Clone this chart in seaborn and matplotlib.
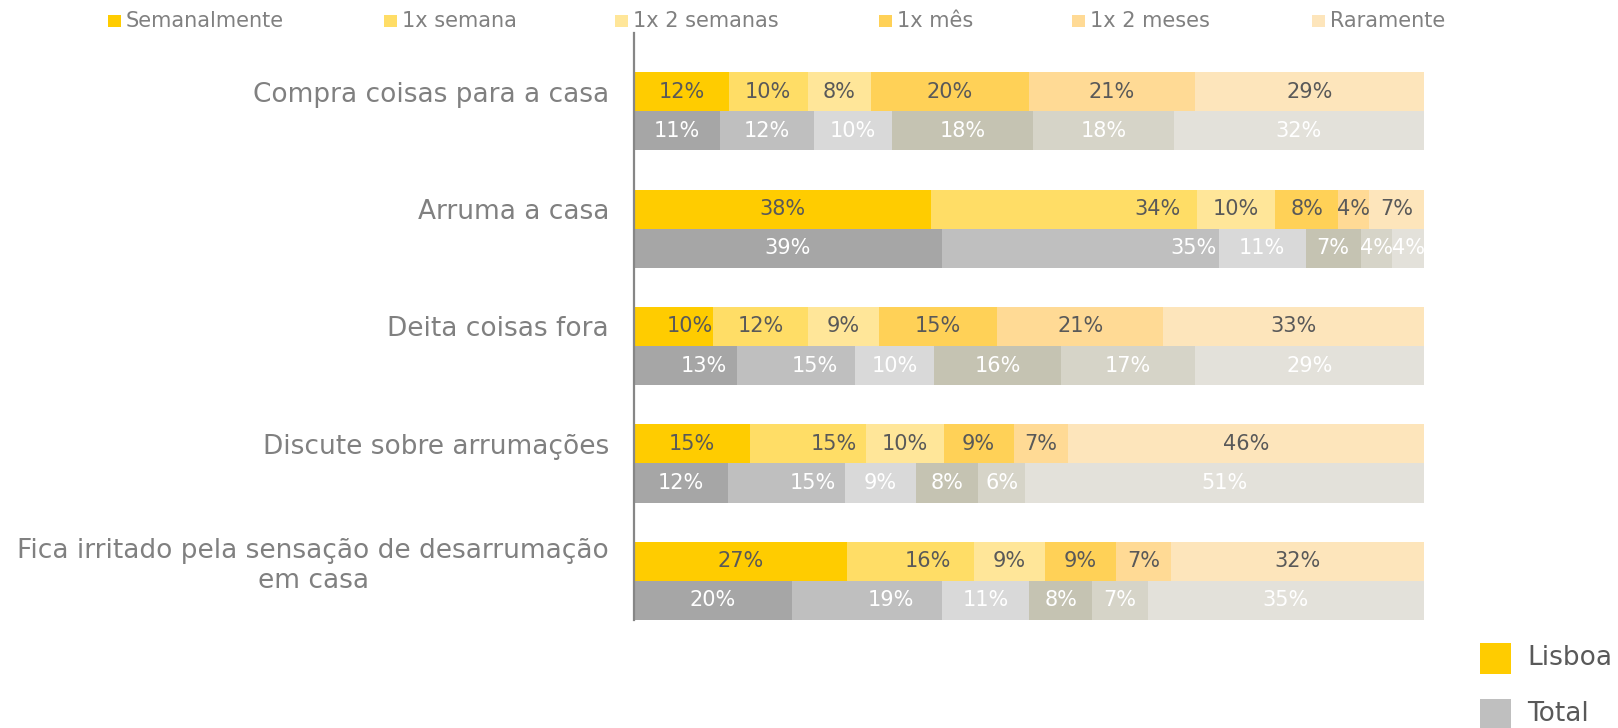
import numpy as np
import pandas as pd
import seaborn as sns
import matplotlib
matplotlib.use("Agg")
import matplotlib.pyplot as plt
from matplotlib.patches import Rectangle

# ---- data ----
categories = [
    "Compra coisas para a casa",
    "Arruma a casa",
    "Deita coisas fora",
    "Discute sobre arrumações",
    "Fica irritado pela sensação de desarrumação\nem casa",
]
segments = ["Semanalmente", "1x semana", "1x 2 semanas", "1x mês", "1x 2 meses", "Raramente"]
groups = ["Lisboa", "Total"]

lisboa_values = [
    [12, 10, 8, 20, 21, 29],
    [38, 34, 10, 8, 4, 7],
    [10, 12, 9, 15, 21, 33],
    [15, 15, 10, 9, 7, 46],
    [27, 16, 9, 9, 7, 32],
]
total_values = [
    [11, 12, 10, 18, 18, 32],
    [39, 35, 11, 7, 4, 4],
    [13, 15, 10, 16, 17, 29],
    [12, 15, 9, 8, 6, 51],
    [20, 19, 11, 8, 7, 35],
]

lisboa_colors = ["#FFCC00", "#FFDD66", "#FFE699", "#FFD157", "#FFDA95", "#FDE5BB"]
total_colors = ["#A6A6A6", "#BFBFBF", "#D9D9D9", "#C5C3B2", "#D6D4C8", "#E3E1DA"]

# ---- long-form table with 100%-stacked cumulative ends ----
rows = []
for g, table in zip(groups, [lisboa_values, total_values]):
    for ci, (cat, vals) in enumerate(zip(categories, table)):
        vals = np.asarray(vals, dtype=float)
        share = vals / vals.sum() * 100
        ends = np.cumsum(share)
        starts = ends - share
        for si, (seg, v, s, e) in enumerate(zip(segments, vals, starts, ends)):
            rows.append(dict(ci=ci, si=si, category=cat, group=g, segment=seg,
                             value=v, start=s, end=e))
df = pd.DataFrame(rows)

# label placement inside a segment (fraction of its width); default is centre
label_frac = {
    (1, "Lisboa", 1): 0.85, (1, "Total", 1): 0.91,
    (2, "Lisboa", 0): 0.71, (2, "Total", 0): 0.68, (2, "Total", 1): 0.66,
    (3, "Lisboa", 1): 0.72, (3, "Total", 1): 0.72,
    (4, "Lisboa", 1): 0.64, (4, "Total", 1): 0.66,
}

# ---- style ----
sns.set_theme(style="white")
plt.rcParams["font.family"] = ["DejaVu Sans"]

W, H = 1618, 728
fig = plt.figure(figsize=(W / 100, H / 100), dpi=100)
ax = fig.add_axes([634 / W, 1 - 620 / H, (1424 - 634) / W, (620 - 33) / H])

bar_width = 0.664
# draw the stacked layers back to front, each ending at its cumulative share
for k in reversed(range(len(segments))):
    sub = df[df.segment == segments[k]]
    sns.barplot(
        data=sub, y="category", x="end", hue="group", hue_order=groups,
        order=categories,
        palette={"Lisboa": lisboa_colors[k], "Total": total_colors[k]},
        orient="h", width=bar_width, gap=0, dodge=True, saturation=1,
        linewidth=0, errorbar=None, legend=False, ax=ax,
    )

# value labels on each visible segment
offset = bar_width / 4
for _, r in df.iterrows():
    y = r.ci - offset if r.group == "Lisboa" else r.ci + offset
    frac = label_frac.get((r.ci, r.group, r.si), 0.5)
    x = r.start + frac * (r.end - r.start)
    color = "#595959" if r.group == "Lisboa" else "white"
    ax.text(x, y, f"{int(r.value)}%", ha="center", va="center",
            fontsize=15, color=color)

ax.set_xlim(0, 100)
ax.set_ylim(len(categories) - 1 + offset * 2, -offset * 4)
ax.set_xlabel("")
ax.set_ylabel("")
ax.set_xticks([])
ax.set_yticks(np.arange(len(categories)) - offset)
ax.set_yticklabels(categories)
ax.tick_params(axis="y", length=0, pad=18, labelsize=19, labelcolor="#808080")
for lab in ax.get_yticklabels():
    lab.set_multialignment("center")

for side in ["top", "right", "bottom"]:
    ax.spines[side].set_visible(False)
ax.spines["left"].set_color("#868686")
ax.spines["left"].set_linewidth(1.6)
ax.set_facecolor("none")

# ---- segment legend across the top ----
legend_x = [108, 384, 615, 879, 1072, 1312]
for name, x, c in zip(segments, legend_x, lisboa_colors):
    fig.add_artist(Rectangle((x / W, 1 - 27 / H), 13 / W, 12 / H,
                             transform=fig.transFigure, color=c, lw=0))
    fig.text((x + 18) / W, 1 - 21 / H, name, ha="left", va="center",
             fontsize=15, color="#808080")

# ---- group legend, bottom right ----
for name, y, c in zip(groups, [658, 714], [lisboa_colors[0], total_colors[1]]):
    fig.add_artist(Rectangle((1480 / W, 1 - (y + 15.5) / H), 31 / W, 31 / H,
                             transform=fig.transFigure, color=c, lw=0))
    fig.text(1527 / W, 1 - y / H, name, ha="left", va="center",
             fontsize=19, color="#595959")

fig.savefig("out.png", dpi=100)
